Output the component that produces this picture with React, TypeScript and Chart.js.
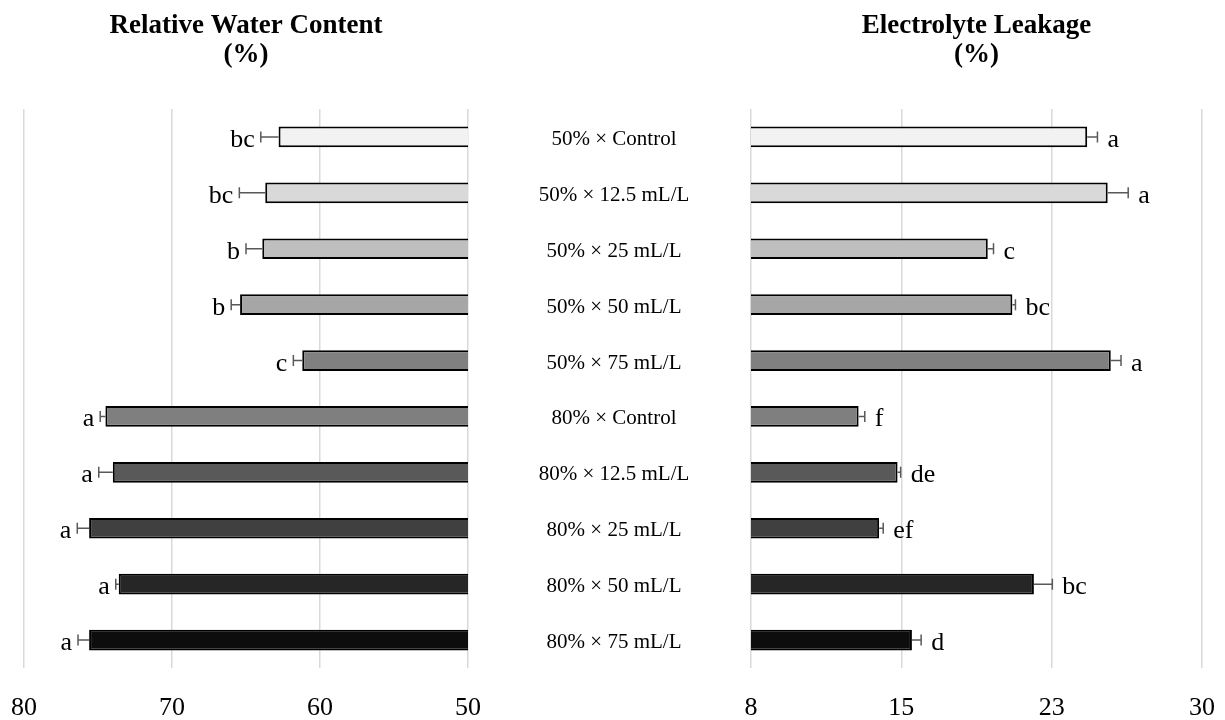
import React, { useEffect, useRef } from "react";
import { Chart, registerables } from "chart.js";

Chart.register(...registerables);

const categories = [
  "50% × Control",
  "50% × 12.5 mL/L",
  "50% × 25 mL/L",
  "50% × 50 mL/L",
  "50% × 75 mL/L",
  "80% × Control",
  "80% × 12.5 mL/L",
  "80% × 25 mL/L",
  "80% × 50 mL/L",
  "80% × 75 mL/L",
];

const rwcValues = [62.8, 63.7, 63.9, 65.4, 61.2, 74.5, 74.0, 75.6, 73.6, 75.6];
const rwcErrors = [1.2, 1.75, 1.1, 0.6, 0.6, 0.35, 0.95, 0.8, 0.2, 0.75];
const rwcLetters = ["bc", "bc", "b", "b", "c", "a", "a", "a", "a", "a"];

const elValues = [24.4, 25.4, 19.55, 20.75, 25.55, 13.25, 15.15, 14.25, 21.8, 15.85];
const elErrors = [0.5, 1.0, 0.28, 0.15, 0.5, 0.3, 0.15, 0.2, 0.9, 0.45];
const elLetters = ["a", "a", "c", "bc", "a", "f", "de", "ef", "bc", "d"];

const barColors = [
  "#f2f2f2", "#d9d9d9", "#bfbfbf", "#a6a6a6", "#808080",
  "#7f7f7f", "#595959", "#404040", "#262626", "#0d0d0d",
];

const rwcTicks = [50, 60, 70, 80];
const rwcTickLabels = ["50", "60", "70", "80"];
const elTicks = [8, 15.333, 22.667, 30];
const elTickLabels = ["8", "15", "23", "30"];

const SERIF = "'Liberation Serif', 'DejaVu Serif', serif";

function makeOverlay(opts: {
  errors: number[];
  letters: string[];
  dir: number;
  title: string;
  drawCategories: boolean;
}) {
  return {
    id: "overlay",
    afterDatasetsDraw(chart: any) {
      const ctx = chart.ctx;
      const meta = chart.getDatasetMeta(0);
      const xs = chart.scales.x;
      const values = chart.data.datasets[0].data as number[];
      ctx.save();
      meta.data.forEach((bar: any, i: number) => {
        const v = values[i];
        const end = xs.getPixelForValue(v + opts.errors[i]);
        const y = bar.y;
        ctx.strokeStyle = "#595959";
        ctx.lineWidth = 1.5;
        ctx.beginPath();
        ctx.moveTo(bar.x, y);
        ctx.lineTo(end, y);
        ctx.moveTo(end, y - 5.5);
        ctx.lineTo(end, y + 5.5);
        ctx.stroke();
        ctx.fillStyle = "#000";
        ctx.font = `26px ${SERIF}`;
        ctx.textBaseline = "alphabetic";
        if (opts.dir < 0) {
          ctx.textAlign = "right";
          ctx.fillText(opts.letters[i], end - 6, y + 10);
        } else {
          ctx.textAlign = "left";
          ctx.fillText(opts.letters[i], end + 10, y + 10);
        }
      });
      ctx.restore();
    },
    afterDraw(chart: any) {
      const ctx = chart.ctx;
      const area = chart.chartArea;
      ctx.save();
      ctx.fillStyle = "#000";
      ctx.textAlign = "center";
      ctx.textBaseline = "alphabetic";
      ctx.font = `bold 27px ${SERIF}`;
      const cx = (area.left + area.right) / 2;
      ctx.fillText(opts.title, cx, 33);
      ctx.fillText("(%)", cx, 62);
      if (opts.drawCategories) {
        const ys = chart.scales.y;
        ctx.font = `21px ${SERIF}`;
        chart.data.labels.forEach((lab: string, i: number) => {
          const y = ys.getPixelForValue(i);
          ctx.fillText(lab, area.left - 137, y + 8);
        });
      }
      ctx.restore();
    },
  };
}

function buildConfig(
  values: number[],
  min: number,
  max: number,
  reverse: boolean,
  ticks: number[],
  tickLabels: string[],
  padding: { left: number; right: number },
  overlay: any
): any {
  return {
    type: "bar",
    data: {
      labels: categories,
      datasets: [
        {
          data: values,
          backgroundColor: barColors,
          borderColor: "#000",
          borderWidth: 2,
          borderSkipped: false,
          categoryPercentage: 1,
          barPercentage: 0.37,
        },
      ],
    },
    options: {
      indexAxis: "y",
      animation: false,
      responsive: false,
      maintainAspectRatio: false,
      layout: { padding: { top: 109, bottom: 0, left: padding.left, right: padding.right } },
      plugins: { legend: { display: false }, tooltip: { enabled: false }, title: { display: false } },
      scales: {
        x: {
          type: "linear",
          min,
          max,
          reverse,
          afterBuildTicks: (axis: any) => {
            axis.ticks = ticks.map((v) => ({ value: v }));
          },
          afterFit: (axis: any) => {
            axis.height = 52;
            axis.paddingLeft = 0;
            axis.paddingRight = 0;
          },
          ticks: {
            callback: (_v: any, idx: number) => tickLabels[idx],
            color: "#000",
            font: { family: SERIF, size: 26 },
            padding: 25,
            maxRotation: 0,
            autoSkip: false,
          },
          grid: { color: "#d9d9d9", lineWidth: 1.5, drawTicks: false },
          border: { display: false },
        },
        y: {
          display: false,
          grid: { display: false },
        },
      },
    },
    plugins: [overlay],
  };
}

export default function App() {
  const leftRef = useRef<HTMLCanvasElement>(null);
  const rightRef = useRef<HTMLCanvasElement>(null);

  useEffect(() => {
    const left = new Chart(
      leftRef.current!,
      buildConfig(
        rwcValues, 50, 80, true, rwcTicks, rwcTickLabels,
        { left: 24, right: 22 },
        makeOverlay({ errors: rwcErrors, letters: rwcLetters, dir: -1, title: "Relative Water Content", drawCategories: false })
      )
    );
    const right = new Chart(
      rightRef.current!,
      buildConfig(
        elValues, 8, 30, false, elTicks, elTickLabels,
        { left: 261, right: 23 },
        makeOverlay({ errors: elErrors, letters: elLetters, dir: 1, title: "Electrolyte Leakage", drawCategories: true })
      )
    );
    return () => {
      left.destroy();
      right.destroy();
    };
  }, []);

  return (
    <div style={{ position: "fixed", left: 0, top: 0, width: 1225, height: 720, background: "#fff" }}>
      <canvas ref={leftRef} width={490} height={720} style={{ position: "absolute", left: 0, top: 0, width: 490, height: 720 }} />
      <canvas ref={rightRef} width={735} height={720} style={{ position: "absolute", left: 490, top: 0, width: 735, height: 720 }} />
    </div>
  );
}
